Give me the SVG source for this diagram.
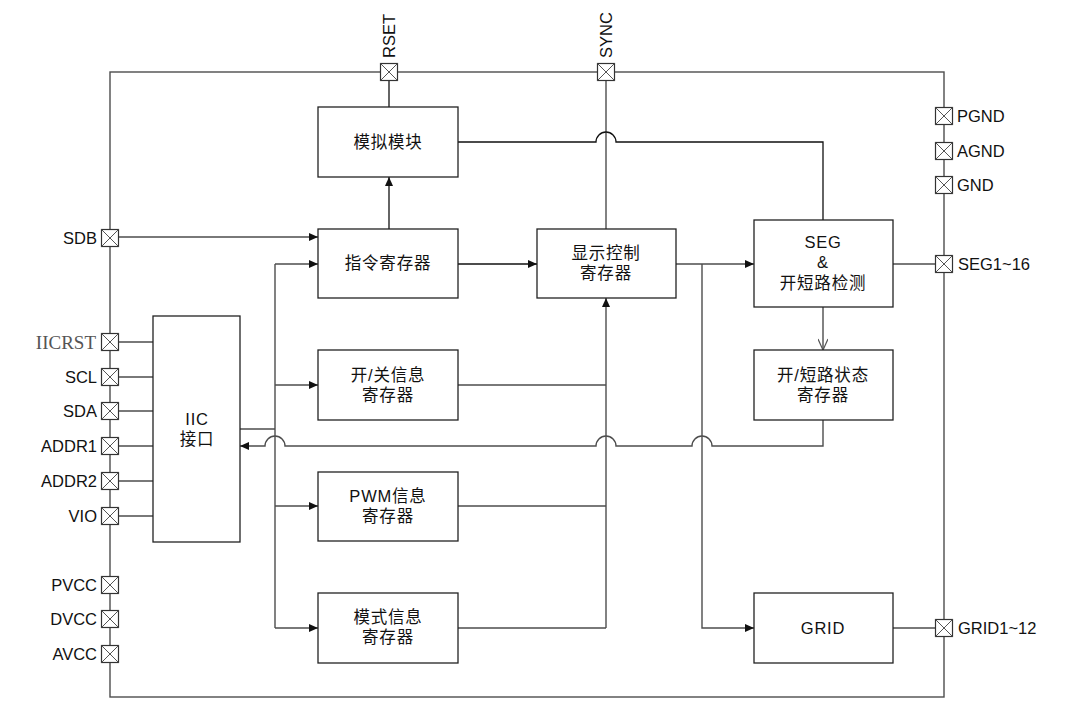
<svg xmlns="http://www.w3.org/2000/svg" width="1076" height="721" viewBox="0 0 1076 721">
<style>
.bg{fill:#fff}
.box{fill:#fff;stroke:#222;stroke-width:1.3}
.ln{fill:none;stroke:#4d4d4d;stroke-width:1.4}
.lk{fill:none;stroke:#111;stroke-width:1.3}
.pin rect{fill:#fff;stroke:#333;stroke-width:1.2}
.pin path{stroke:#555;stroke-width:1}
.lbl{font-family:"Liberation Sans",Arial,sans-serif;font-size:16.5px;fill:#111}
.cn{font-family:"Liberation Sans","Noto Sans CJK SC",sans-serif;font-size:16.5px;fill:#111;text-anchor:middle;letter-spacing:0.8px}
.serif{font-family:"Liberation Serif","Times New Roman",serif;font-size:19px;fill:#555}
</style>
<defs>
<marker id="ar" markerWidth="10" markerHeight="8" refX="9" refY="4" orient="auto-start-reverse" markerUnits="userSpaceOnUse">
<path d="M0 0L9 4L0 8Z" fill="#111"/>
</marker>
<marker id="ao" markerWidth="14" markerHeight="10" refX="12" refY="5" orient="auto" markerUnits="userSpaceOnUse">
<path d="M1 0L12 5L1 10" fill="none" stroke="#555" stroke-width="1.2"/>
</marker>
<g id="pinshape" class="pin"><rect x="-8.5" y="-8.5" width="17" height="17"/><path d="M-8.5 -8.5L8.5 8.5M8.5 -8.5L-8.5 8.5"/></g>
</defs>
<rect class="bg" width="1076" height="721"/>

<g id="connectors">
<rect x="110" y="72" width="834" height="625" class="ln"/>
<path class="lk" d="M389 81V107"/>
<path class="ln" d="M606 81V229"/>
<path class="lk" d="M458 142H596A10 10 0 0 1 616 142H823V220"/>
<path class="lk" d="M389 229V177" marker-end="url(#ar)"/>
<path class="ln" d="M119 237H318" marker-end="url(#ar)"/>
<path class="ln" d="M119 342H153M119 377H153M119 411H153M119 446H153M119 481H153M119 516H153"/>
<path class="ln" d="M240 429H275M275 264V628"/>
<path class="ln" d="M275 264H318" marker-end="url(#ar)"/>
<path class="ln" d="M275 385H318" marker-end="url(#ar)"/>
<path class="ln" d="M275 506H318" marker-end="url(#ar)"/>
<path class="ln" d="M275 628H318" marker-end="url(#ar)"/>
<path class="lk" d="M458 264H537" marker-end="url(#ar)"/>
<path class="ln" d="M676 264H754" marker-end="url(#ar)"/>
<path class="ln" d="M702 264V628H754" marker-end="url(#ar)"/>
<path class="ln" d="M893 264H936"/>
<path class="ln" d="M893 628H936"/>
<path class="ln" d="M823 307V350" marker-end="url(#ao)"/>
<path class="ln" d="M823 420V446H712A10 10 0 0 0 692 446H616A10 10 0 0 0 596 446H285A10 10 0 0 0 265 446H240" marker-end="url(#ar)"/>
<path class="ln" d="M606 628V298" marker-end="url(#ar)"/>
<path class="ln" d="M458 385H606M458 506H606M458 628H606"/>
</g>

<g id="pins">
<g id="pin-RSET"><use href="#pinshape" transform="translate(389,72)"/><text class="lbl" transform="translate(395,58) rotate(-90)">RSET</text></g>
<g id="pin-SYNC"><use href="#pinshape" transform="translate(606,72)"/><text class="lbl" transform="translate(612,58) rotate(-90)">SYNC</text></g>
<g id="pin-SDB"><use href="#pinshape" transform="translate(110,238)"/><text class="lbl" x="97" y="244" text-anchor="end">SDB</text></g>
<g id="pin-IICRST"><use href="#pinshape" transform="translate(110,342)"/><text class="serif" x="96" y="349" text-anchor="end">IICRST</text></g>
<g id="pin-SCL"><use href="#pinshape" transform="translate(110,377)"/><text class="lbl" x="97" y="383" text-anchor="end">SCL</text></g>
<g id="pin-SDA"><use href="#pinshape" transform="translate(110,411)"/><text class="lbl" x="97" y="417" text-anchor="end">SDA</text></g>
<g id="pin-ADDR1"><use href="#pinshape" transform="translate(110,446)"/><text class="lbl" x="97" y="452" text-anchor="end">ADDR1</text></g>
<g id="pin-ADDR2"><use href="#pinshape" transform="translate(110,481)"/><text class="lbl" x="97" y="487" text-anchor="end">ADDR2</text></g>
<g id="pin-VIO"><use href="#pinshape" transform="translate(110,516)"/><text class="lbl" x="97" y="522" text-anchor="end">VIO</text></g>
<g id="pin-PVCC"><use href="#pinshape" transform="translate(110,585)"/><text class="lbl" x="97" y="591" text-anchor="end">PVCC</text></g>
<g id="pin-DVCC"><use href="#pinshape" transform="translate(110,619)"/><text class="lbl" x="97" y="625" text-anchor="end">DVCC</text></g>
<g id="pin-AVCC"><use href="#pinshape" transform="translate(110,654)"/><text class="lbl" x="97" y="660" text-anchor="end">AVCC</text></g>
<g id="pin-PGND"><use href="#pinshape" transform="translate(944,116)"/><text class="lbl" x="957" y="122">PGND</text></g>
<g id="pin-AGND"><use href="#pinshape" transform="translate(944,151)"/><text class="lbl" x="957" y="157">AGND</text></g>
<g id="pin-GND"><use href="#pinshape" transform="translate(944,185)"/><text class="lbl" x="957" y="191">GND</text></g>
<g id="pin-SEG"><use href="#pinshape" transform="translate(944,264)"/><text class="lbl" x="958" y="270">SEG1~16</text></g>
<g id="pin-GRID"><use href="#pinshape" transform="translate(944,628)"/><text class="lbl" x="958" y="634">GRID1~12</text></g>
</g>

<g id="node-analog"><rect class="box" x="318" y="107" width="140" height="70"/><text class="cn" x="388" y="148">模拟模块</text></g>
<g id="node-cmd"><rect class="box" x="318" y="229" width="140" height="69"/><text class="cn" x="388" y="269">指令寄存器</text></g>
<g id="node-onoff"><rect class="box" x="318" y="350" width="140" height="70"/><text class="cn" x="388" y="381">开/关信息</text><text class="cn" x="388" y="401">寄存器</text></g>
<g id="node-pwm"><rect class="box" x="318" y="472" width="140" height="69"/><text class="cn" x="388" y="502">PWM信息</text><text class="cn" x="388" y="522">寄存器</text></g>
<g id="node-mode"><rect class="box" x="318" y="593" width="140" height="70"/><text class="cn" x="388" y="623">模式信息</text><text class="cn" x="388" y="643">寄存器</text></g>
<g id="node-iic"><rect class="box" x="153" y="316" width="87" height="226"/><text class="cn" x="197" y="425">IIC</text><text class="cn" x="197" y="445">接口</text></g>
<g id="node-disp"><rect class="box" x="537" y="229" width="139" height="69"/><text class="cn" x="606" y="259">显示控制</text><text class="cn" x="606" y="279">寄存器</text></g>
<g id="node-seg"><rect class="box" x="754" y="220" width="139" height="87"/><text class="cn" x="823" y="248">SEG</text><text class="cn" x="823" y="268">&amp;</text><text class="cn" x="823" y="289">开短路检测</text></g>
<g id="node-status"><rect class="box" x="754" y="350" width="139" height="70"/><text class="cn" x="823" y="381">开/短路状态</text><text class="cn" x="823" y="401">寄存器</text></g>
<g id="node-grid"><rect class="box" x="754" y="593" width="139" height="70"/><text class="cn" x="823" y="634">GRID</text></g>
</svg>
